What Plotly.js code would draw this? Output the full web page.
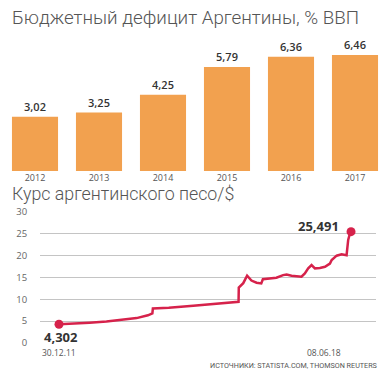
<!DOCTYPE html>
<html><head><meta charset="utf-8">
<script src="https://cdn.plot.ly/plotly-3.0.1.min.js"></script>
<style>html,body{margin:0;padding:0;background:#fff}#chart{width:391px;height:380px}</style>
</head><body><div id="chart"></div>
<script>
// Top chart: budget deficit, % of GDP
const years = ['2012','2013','2014','2015','2016','2017'];
const deficit = [3.02, 3.25, 4.25, 5.79, 6.36, 6.46];

// Bottom chart: peso per US dollar
const rateDates = ['2011-12-30','2012-04-20','2012-09-01','2013-01-15','2013-06-01','2013-09-15','2013-12-15','2014-01-20','2014-01-24','2014-02-10','2014-06-01','2014-12-15','2015-05-01','2015-09-10','2015-12-15','2015-12-17','2016-01-08','2016-01-22','2016-02-22','2016-03-10','2016-03-28','2016-05-08','2016-06-15','2016-06-28','2016-08-20','2016-10-15','2016-12-08','2017-01-05','2017-02-14','2017-04-08','2017-05-05','2017-06-01','2017-06-28','2017-07-25','2017-08-21','2017-09-30','2017-11-10','2017-12-20','2018-01-03','2018-02-12','2018-03-24','2018-05-03','2018-05-16','2018-05-30','2018-06-08'];
const rateValues = [4.302,4.40,4.65,4.92,5.30,5.70,6.35,6.80,7.90,7.95,8.10,8.55,8.90,9.20,9.45,12.70,13.30,13.70,15.40,14.90,14.30,13.80,13.65,14.60,14.80,14.95,15.55,15.70,15.40,15.20,15.20,15.95,17.10,17.85,17.10,17.20,17.45,18.20,19.00,20.00,20.30,20.10,23.60,25.10,25.491];
const yTicks = [0,5,10,15,20,25,30];
const dateLabels = ['30.12.11','08.06.18'];

const titleTop = 'Бюджетный дефицит Аргентины, % ВВП';
const titleBottom = 'Курс аргентинского песо/$';
const source = 'ИСТОЧНИКИ: STATISTA.COM, THOMSON REUTERS';

const W = 391, H = 380;
const px = v => v / W, py = v => 1 - v / H;
const lastI = rateValues.length - 1;
const fmt = v => v.toFixed(3).replace('.', ',');

const traces = [
  {type:'bar', x: years, y: deficit, xaxis:'x', yaxis:'y',
   marker:{color:'#F2A14F'}, text: deficit.map(v=>v.toFixed(2).replace('.',',')),
   textposition:'outside', cliponaxis:false,
   textfont:{family:'Open Sans', weight:600, size:11, color:'#333'}, hoverinfo:'skip'},
  {type:'scatter', mode:'lines', x: rateDates, y: rateValues, xaxis:'x2', yaxis:'y2',
   line:{color:'#D6224B', width:2.5}, hoverinfo:'skip'},
  {type:'scatter', mode:'markers', x:[rateDates[0], rateDates[lastI]], y:[rateValues[0], rateValues[lastI]],
   xaxis:'x2', yaxis:'y2', marker:{color:'#D6224B', size:9}, cliponaxis:false, hoverinfo:'skip'}
];

const layout = {
  width: W, height: H, margin:{l:0,r:0,t:0,b:0},
  paper_bgcolor:'#fff', plot_bgcolor:'rgba(0,0,0,0)', showlegend:false,
  separators: ', ',
  bargap: 0.28,
  font:{family:'Open Sans', color:'#555'},
  xaxis:{domain:[px(3), px(387)], type:'category', showgrid:false, zeroline:false, showline:false,
         ticks:'', tickfont:{family:'Open Sans', size:9, color:'#555'}, fixedrange:true},
  yaxis:{domain:[py(171), py(40)], range:[0,7.29], visible:false, fixedrange:true},
  xaxis2:{domain:[px(40), px(376)], anchor:'y2', type:'date', range:['2011-07-30','2018-12-26'],
          showgrid:false, zeroline:false, showline:false, showticklabels:false, ticks:''},
  yaxis2:{domain:[py(343), py(212)], anchor:'x2', range:[0,30], tickvals: yTicks,
          showgrid:true, gridcolor:'#c4c4c4', gridwidth:1, zeroline:false, showline:false,
          ticks:'outside', ticklen:10, tickcolor:'rgba(0,0,0,0)',
          tickfont:{family:'Open Sans', size:9.5, color:'#666'}},
  annotations:[
    {xref:'paper', yref:'paper', x:px(10), y:py(18), xanchor:'left', yanchor:'middle', showarrow:false,
     text:titleTop, font:{family:'Roboto', weight:300, size:18.8, color:'#555'}},
    {xref:'paper', yref:'paper', x:px(10), y:py(193), xanchor:'left', yanchor:'middle', showarrow:false,
     text:titleBottom, font:{family:'Roboto', weight:300, size:17.8, color:'#555'}},
    {xref:'x2', yref:'y2', x:rateDates[0], y:rateValues[0], xanchor:'center', yanchor:'middle',
     xshift:2, yshift:-13, showarrow:false, text:fmt(rateValues[0]),
     font:{family:'Open Sans', weight:700, size:13, color:'#333'}},
    {xref:'x2', yref:'y2', x:rateDates[lastI], y:rateValues[lastI], xanchor:'center', yanchor:'middle',
     xshift:-33, yshift:6, showarrow:false, text:fmt(rateValues[lastI]),
     font:{family:'Open Sans', weight:700, size:13, color:'#333'}},
    {xref:'paper', yref:'paper', x:px(40), y:py(352), xanchor:'left', yanchor:'middle', showarrow:false,
     text:dateLabels[0], font:{family:'Open Sans', size:8.5, color:'#555'}},
    {xref:'paper', yref:'paper', x:px(343), y:py(352), xanchor:'right', yanchor:'middle', showarrow:false,
     text:dateLabels[1], font:{family:'Open Sans', size:8.5, color:'#555'}},
    {xref:'paper', yref:'paper', x:px(379), y:py(365), xanchor:'right', yanchor:'middle', showarrow:false,
     text:source, font:{family:'Roboto', size:7.2, color:'#555'}}
  ]
};

Plotly.newPlot('chart', traces, layout, {staticPlot:true, displayModeBar:false});
</script></body></html>
